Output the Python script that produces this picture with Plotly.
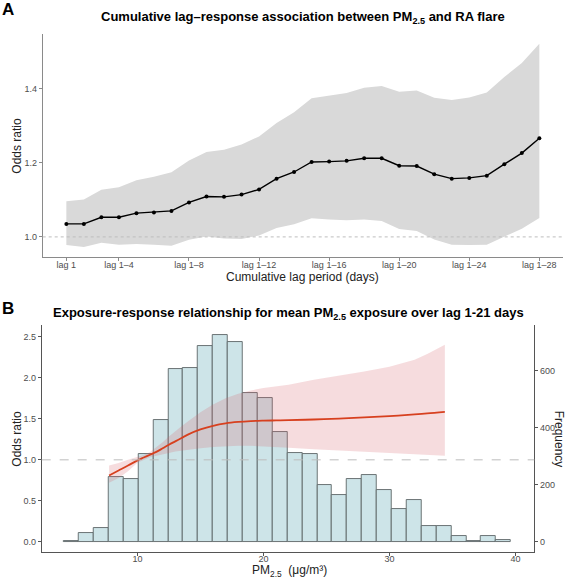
import numpy as np
import plotly.graph_objects as go

# ---------------- Panel A data ----------------
lags = list(range(1, 29))
lag_tickvals = [1, 4, 8, 12, 16, 20, 24, 28]
lag_ticktext = ["lag 1", "lag 1–4", "lag 1–8", "lag 1–12", "lag 1–16",
                "lag 1–20", "lag 1–24", "lag 1–28"]
or_est = [1.035, 1.035, 1.053, 1.053, 1.064, 1.066, 1.070, 1.093, 1.109, 1.108,
          1.114, 1.128, 1.157, 1.175, 1.202, 1.203, 1.205, 1.212, 1.212, 1.192,
          1.191, 1.169, 1.157, 1.159, 1.165, 1.196, 1.226, 1.266]
or_upper = [1.096, 1.101, 1.127, 1.134, 1.153, 1.162, 1.174, 1.206, 1.229, 1.235,
            1.249, 1.271, 1.307, 1.336, 1.374, 1.382, 1.388, 1.402, 1.407, 1.391,
            1.395, 1.375, 1.369, 1.376, 1.389, 1.431, 1.469, 1.521]
or_lower = [0.978, 0.973, 0.984, 0.979, 0.981, 0.979, 0.976, 0.992, 1.001, 0.996,
            0.994, 1.004, 1.024, 1.034, 1.050, 1.047, 1.045, 1.047, 1.043, 1.021,
            1.016, 0.993, 0.979, 0.978, 0.979, 1.000, 1.022, 1.051]

# ---------------- Panel B data ----------------
hist_start = 4.16
hist_width = 1.183
hist_counts = [3, 31, 50, 228, 220, 309, 427, 605, 608, 685, 723, 700, 521, 504,
               384, 311, 309, 199, 164, 220, 235, 182, 115, 147, 56, 56, 21, 3, 21, 7]
freq_per_or = 287.5  # secondary-axis scaling (frequency units per OR unit)

pm = [7.75, 8.5, 9.25, 10.0, 10.5, 11.0, 11.5, 12.0, 12.5, 13.0, 13.5, 14.0, 15.0,
      16.0, 17.0, 18.0, 19.0, 20.0, 21.0, 22.0, 24.0, 26.0, 28.0, 30.0, 32.0, 33.0, 34.4]
er_est = [0.81, 0.87, 0.93, 0.993, 1.028, 1.062, 1.097, 1.14, 1.184, 1.225, 1.266, 1.307,
          1.37, 1.415, 1.445, 1.462, 1.472, 1.477, 1.480, 1.483, 1.491, 1.503, 1.516,
          1.533, 1.553, 1.565, 1.585]
er_upper = [0.93, 0.96, 1.0, 1.035, 1.06, 1.095, 1.15, 1.215, 1.285, 1.35, 1.41, 1.467,
            1.58, 1.675, 1.75, 1.805, 1.845, 1.875, 1.895, 1.915, 1.975, 2.025, 2.075,
            2.135, 2.22, 2.29, 2.40]
er_lower = [0.72, 0.78, 0.86, 0.965, 1.0, 1.03, 1.05, 1.07, 1.083, 1.10, 1.112, 1.123,
            1.14, 1.155, 1.165, 1.172, 1.172, 1.167, 1.158, 1.148, 1.13, 1.113, 1.098,
            1.08, 1.068, 1.06, 1.05]

W, H = 566, 578
FONT = "Liberation Sans, Arial, sans-serif"
TICKCOL = "#4d4d4d"


def px(x):
    return x / W


def py(y):
    return 1 - y / H


fig = go.Figure()

# Panel A ribbon
fig.add_trace(go.Scatter(
    x=lags + lags[::-1], y=or_upper + or_lower[::-1],
    fill="toself", fillcolor="#d9d9d9", line=dict(width=0),
    mode="lines", hoverinfo="skip", showlegend=False, xaxis="x", yaxis="y"))
fig.add_trace(go.Scatter(
    x=lags, y=or_est, mode="lines+markers",
    line=dict(color="black", width=1.4), marker=dict(color="black", size=4),
    showlegend=False, xaxis="x", yaxis="y"))

# Panel B histogram (frequency axis)
centers = hist_start + hist_width * (np.arange(len(hist_counts)) + 0.5)
fig.add_trace(go.Bar(
    x=centers, y=hist_counts, width=hist_width,
    marker=dict(color="#cde4e8", line=dict(color="#5c6566", width=0.9)),
    showlegend=False, xaxis="x2", yaxis="y2"))

# Panel B ribbon + curve (odds-ratio axis)
fig.add_trace(go.Scatter(
    x=pm + pm[::-1], y=er_upper + er_lower[::-1],
    fill="toself", fillcolor="rgba(215,95,105,0.22)", line=dict(width=0),
    mode="lines", hoverinfo="skip", showlegend=False, xaxis="x2", yaxis="y3"))
fig.add_trace(go.Scatter(
    x=pm, y=er_est, mode="lines", line=dict(color="#d7401f", width=1.8, shape="spline"),
    showlegend=False, xaxis="x2", yaxis="y3"))

axis_common = dict(showgrid=False, zeroline=False, showline=True, ticks="outside",
                   ticklen=3, tickfont=dict(size=9, color=TICKCOL, family=FONT),
                   automargin=False)

A_x0, A_x1, A_y0, A_y1 = 42.7, 563.0, 34.0, 257.3
B_x0, B_x1, B_y0, B_y1 = 41.7, 534.3, 325.0, 552.3

or_b_range = [-0.126, 2.642]

fig.update_layout(
    width=W, height=H, margin=dict(l=0, r=0, t=0, b=0),
    paper_bgcolor="white", plot_bgcolor="white",
    font=dict(family=FONT, color="black"),
    xaxis=dict(domain=[px(A_x0), px(A_x1)], range=[-0.35, 29.35], anchor="y",
               tickvals=lag_tickvals, ticktext=lag_ticktext, ticklabelstandoff=-4,
               linecolor="#8a8a8a", tickcolor="#8a8a8a", linewidth=1, **axis_common),
    yaxis=dict(domain=[py(A_y1), py(A_y0)], range=[0.945, 1.547], anchor="x",
               tickvals=[1.0, 1.2, 1.4], tickformat=".1f",
               linecolor="#8a8a8a", tickcolor="#8a8a8a", linewidth=1, **axis_common),
    xaxis2=dict(domain=[px(B_x0), px(B_x1)], range=[2.4, 41.5], anchor="y2",
                tickvals=[10, 20, 30, 40], ticklabelstandoff=-5,
                linecolor="#555555", tickcolor="#555555", linewidth=1, **axis_common),
    yaxis2=dict(domain=[py(B_y1), py(B_y0)],
                range=[or_b_range[0] * freq_per_or, or_b_range[1] * freq_per_or],
                anchor="x2", side="right", tickvals=[0, 200, 400, 600],
                linecolor="#555555", tickcolor="#555555", linewidth=1, **axis_common),
    yaxis3=dict(range=or_b_range, overlaying="y2", anchor="x2", side="left",
                tickvals=[0, 0.5, 1.0, 1.5, 2.0, 2.5], tickformat=".1f",
                linecolor="#555555", tickcolor="#555555", linewidth=1, **axis_common),
    bargap=0,
)

# reference lines at OR = 1
fig.add_shape(type="line", xref="x domain", yref="y", x0=0, x1=1, y0=1, y1=1,
              line=dict(color="#bdbdbd", width=1, dash="dot"), layer="above")
fig.add_shape(type="line", xref="x2 domain", yref="y3", x0=0, x1=1, y0=1, y1=1,
              line=dict(color="#bdbdbd", width=1, dash="dash"), layer="above")

ann = []
ann.append(dict(text="<b>A</b>", x=px(0), y=py(9.5), xanchor="left", yanchor="middle",
                font=dict(size=17, family=FONT, color="black")))
ann.append(dict(text="<b>B</b>", x=px(0), y=py(308.5), xanchor="left", yanchor="middle",
                font=dict(size=17, family=FONT, color="black")))
ann.append(dict(text="<b>Cumulative lag–response association between PM<sub>2.5</sub> and RA flare</b>",
                x=px((A_x0 + A_x1) / 2), y=py(17.5), xanchor="center", yanchor="middle",
                font=dict(size=13, family=FONT, color="black")))
ann.append(dict(text="<b>Exposure-response relationship for mean PM<sub>2.5</sub> exposure over lag 1-21 days</b>",
                x=px((B_x0 + B_x1) / 2), y=py(313), xanchor="center", yanchor="middle",
                font=dict(size=13, family=FONT, color="black")))
ann.append(dict(text="Cumulative lag period (days)", x=px((A_x0 + A_x1) / 2), y=py(277),
                xanchor="center", yanchor="middle", font=dict(size=12, family=FONT, color="#222")))
ann.append(dict(text="Odds ratio", x=px(17), y=py((A_y0 + A_y1) / 2), textangle=-90,
                xanchor="center", yanchor="middle", font=dict(size=12, family=FONT, color="#222")))
ann.append(dict(text="Odds ratio", x=px(17), y=py((B_y0 + B_y1) / 2), textangle=-90,
                xanchor="center", yanchor="middle", font=dict(size=12, family=FONT, color="#222")))
ann.append(dict(text="Frequency", x=px(559), y=py((B_y0 + B_y1) / 2), textangle=90,
                xanchor="center", yanchor="middle", font=dict(size=12, family=FONT, color="#222")))
ann.append(dict(text="PM<sub>2.5</sub>  (μg/m³)", x=px(289), y=py(571),
                xanchor="center", yanchor="middle", font=dict(size=12, family=FONT, color="#222")))
for a in ann:
    a.update(xref="paper", yref="paper", showarrow=False)
fig.update_layout(annotations=ann)

fig.write_html(
    "out.html",
    config={"displayModeBar": False},
    post_script="document.body.style.margin='0';document.body.style.padding='0';"
                "document.documentElement.style.overflow='hidden';",
)
